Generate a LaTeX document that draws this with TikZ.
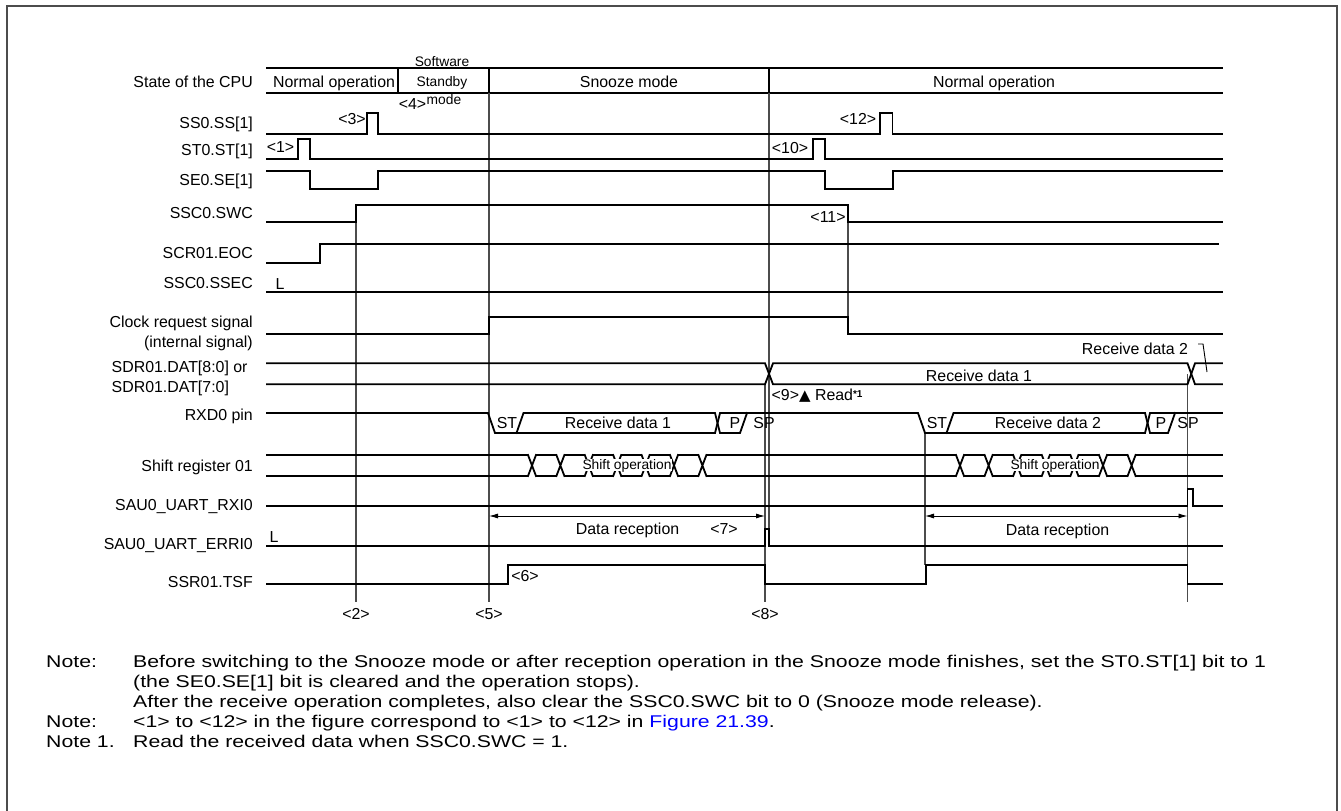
\documentclass[tikz,border=0pt]{standalone}
\usepackage{fontspec}
\setmainfont{Liberation Sans}
\newfontfamily\symfont{DejaVu Sans}
\newfontfamily\notefont[FakeStretch=1.25]{Liberation Sans}
\usetikzlibrary{arrows.meta}
\begin{document}
\begin{tikzpicture}[x=1pt,y=-1pt,
  wave/.style={line width=1.8pt, line join=miter, line cap=rect},
  bold/.style={line width=2.2pt, line cap=rect},
  guide/.style={line width=1.1pt, black!70},
  thin/.style={line width=0.9pt},
  lab/.style={font=\fontsize{15.9}{19}\selectfont, inner sep=0pt, text height=11.4pt, text depth=0pt},
  sml/.style={font=\fontsize{13.8}{16}\selectfont, inner sep=0pt, text height=9.9pt, text depth=0pt},
  rlab/.style={lab, anchor=east},
  dimarrow/.style={thin, {Latex[length=9pt,width=5pt]}-{Latex[length=9pt,width=5pt]}},
  note/.style={font=\notefont\fontsize{17}{20}\selectfont, inner sep=0pt, anchor=base west}]
\useasboundingbox (0,0) rectangle (1341,811);
% frame
\draw[line width=2pt, black!70] (7,811) -- (7,6) -- (1337,6) -- (1337,811);

% ---------- signal labels ----------
\node[rlab] (lcpu) at (253,82) {State of the CPU};
\node[rlab] (lss) at (253,123) {SS0.SS[1]};
\node[rlab] (lst) at (253,150) {ST0.ST[1]};
\node[rlab] (lse) at (253,180) {SE0.SE[1]};
\node[rlab] (lswc) at (253,213) {SSC0.SWC};
\node[rlab] (leoc) at (253,253) {SCR01.EOC};
\node[rlab] (lssec) at (253,283) {SSC0.SSEC};
\node[rlab] (lclk1) at (253,321.5) {Clock request signal};
\node[rlab] (lclk2) at (253,341.5) {(internal signal)};
\node[lab, anchor=west] (lsdr1) at (111.5,366.5) {SDR01.DAT[8:0] or};
\node[lab, anchor=west] (lsdr2) at (111.5,386.5) {SDR01.DAT[7:0]};
\node[rlab] (lrxd) at (253,414.5) {RXD0 pin};
\node[rlab] (lshift) at (253,465.5) {Shift register 01};
\node[rlab] (lrxi) at (253,505) {SAU0\_UART\_RXI0};
\node[rlab] (lerr) at (253,544) {SAU0\_UART\_ERRI0};
\node[rlab] (ltsf) at (253,582) {SSR01.TSF};

% ---------- CPU state row ----------
\draw[bold] (267,68) -- (1222,68);
\draw[bold] (267,93) -- (1222,93);
\draw[bold] (398,68) -- (398,93);
\draw[bold] (489,68) -- (489,93);
\draw[bold] (769,68) -- (769,93);
\node[lab] (cpu1) at (334,82) {Normal operation};
\node[sml] (sw1) at (442,61.5) {Software};
\node[sml] (sw2) at (442,81.5) {Standby};
\node[sml] (sw3) at (444,100) {mode};
\node[lab] (m4) at (412.5,104) {<4>};
\node[lab] (cpu3) at (629,82) {Snooze mode};
\node[lab] (cpu4) at (994,82) {Normal operation};

% ---------- guide lines ----------
\draw[guide] (489,93) -- (489,602);
\draw[guide] (769,93) -- (769,529);
\draw[guide] (356,222) -- (356,602);
\draw[guide] (848,222) -- (848,317);
\draw[guide] (765,384) -- (765,602);
\draw[guide] (1187.5,374) -- (1187.5,602);
\draw[guide] (925,433) -- (925,565);

% ---------- SS0.SS[1] ----------
\draw[wave] (267,134) -- (367,134) -- (367,113) -- (378,113) -- (378,134) -- (880,134) -- (880,113) -- (892.5,113) -- (892.5,134) -- (1222,134);
\node[lab] (m3) at (352,119) {<3>};
\node[lab] (m12) at (858,119) {<12>};
% ---------- ST0.ST[1] ----------
\draw[wave, line width=2.3pt] (267,159.3) -- (297.7,159.3) -- (297.7,139.3) -- (310,139.3) -- (310,159.3) -- (812.7,159.3) -- (812.7,139.3) -- (825,139.3) -- (825,159.3) -- (1222,159.3);
\node[lab] (m1) at (280.5,146.5) {<1>};
\node[lab] (m10) at (790,147.5) {<10>};
% ---------- SE0.SE[1] ----------
\draw[wave] (267,171) -- (310,171) -- (310,189) -- (378,189) -- (378,171) -- (825,171) -- (825,189) -- (893,189) -- (893,171) -- (1222,171);
% ---------- SSC0.SWC ----------
\draw[wave] (267,222) -- (356,222) -- (356,205) -- (848,205) -- (848,222) -- (1222,222);
\node[lab] (m11) at (828,216.5) {<11>};
% ---------- SCR01.EOC ----------
\draw[wave] (267,263.3) -- (320,263.3) -- (320,244) -- (1218,244);
% ---------- SSC0.SSEC ----------
\draw[wave] (267,292.3) -- (1222,292.3);
\node[lab] (lL1) at (280,284) {L};
% ---------- Clock request ----------
\draw[wave] (267,334) -- (489,334) -- (489,317) -- (848,317) -- (848,334) -- (1222,334);
% ---------- SDR01.DAT ----------
\draw[wave] (267,363.3) -- (765,363.3) -- (773,384.3) -- (1187.5,384.3) -- (1195,363.3) -- (1222,363.3);
\draw[wave] (267,384.3) -- (765,384.3) -- (773,363.3) -- (1187.5,363.3) -- (1195,384.3) -- (1222,384.3);
\node[lab] (rd1) at (979,375.5) {Receive data 1};
\node[lab] (rd2) at (1135,349) {Receive data 2};
\coordinate (rd2a) at (1198,344);
\coordinate (rd2b) at (1203,344);
\coordinate (rd2c) at (1207,372);
\draw[thin] (rd2a) -- (rd2b) -- (rd2c);
\node[lab, anchor=west] (m9) at (771.5,395) {<9>{\symfont\fontsize{15}{16}\selectfont ▲} Read{\fontsize{10}{12}\selectfont\bfseries\raisebox{3pt}{*1}}};
% ---------- RXD0 pin ----------
\draw[wave] (267,413) -- (488,413) -- (495,433) -- (715,433) -- (720,413) -- (918,413) -- (925,433) -- (1145,433) -- (1150,413) -- (1222,413);
\draw[wave] (516.5,433) -- (523.5,413) -- (715,413) -- (720,433) -- (740,433) -- (747,413);
\draw[wave] (946.5,433) -- (953.5,413) -- (1145,413) -- (1150,433) -- (1168,433) -- (1175,413);
\node[lab] (st1) at (507,423) {ST};
\node[lab] (rx1) at (618,423) {Receive data 1};
\node[lab] (p1) at (735,423) {P};
\node[lab] (sp1) at (764,423) {SP};
\node[lab] (st2) at (937,423) {ST};
\node[lab] (rx2) at (1048,423) {Receive data 2};
\node[lab] (p2) at (1161,423) {P};
\node[lab] (sp2) at (1188,423) {SP};
% ---------- Shift register 01 ----------
\draw[wave] (267,455) -- (1222,455);
\draw[wave] (267,476) -- (1222,476);
\foreach \c in {532,560.4,588.8,617.2,645.6,674,702.4,960,988.6,1017.2,1045.8,1074.4,1103,1131.6}{
  \fill[white] (\c-4,451) rectangle (\c+4,480);
  \draw[wave] (\c-4,455) -- (\c+4,476) (\c-4,476) -- (\c+4,455);
}
\node[sml, fill=white, inner xsep=0.5pt, inner ysep=1pt] (sh1) at (627,465) {Shift operation};
\node[sml, fill=white, inner xsep=0.5pt, inner ysep=1pt] (sh2) at (1055,465) {Shift operation};
% ---------- RXI0 ----------
\draw[wave] (267,505.7) -- (1187.5,505.7) -- (1187.5,489) -- (1193.3,489) -- (1193.3,505.7) -- (1222,505.7);
% ---------- Data reception ----------
\coordinate (dr1a) at (489,516);
\coordinate (dr1b) at (765,516);
\coordinate (dr2a) at (925,516);
\coordinate (dr2b) at (1187.5,516);
\draw[dimarrow] (dr1a) -- (dr1b);
\draw[dimarrow] (dr2a) -- (dr2b);
\node[lab] (dr1) at (627.5,529) {Data reception};
\node[lab] (m7) at (724,529) {<7>};
\node[lab] (dr2) at (1057.5,530) {Data reception};
% ---------- ERRI0 ----------
\draw[wave] (267,546) -- (765,546) -- (765,529) -- (769,529) -- (769,546) -- (1222,546);
\node[lab] (lL2) at (274,537) {L};
% ---------- TSF ----------
\draw[wave] (267,584.3) -- (508.3,584.3) -- (508.3,565) -- (765,565) -- (765,584.3) -- (925.7,584.3) -- (925.7,565) -- (1187.5,565) -- (1187.5,584.3) -- (1222,584.3);
\node[lab] (m6) at (525,576) {<6>};
% ---------- bottom markers ----------
\node[lab] (m2) at (356,614) {<2>};
\node[lab] (m5) at (489,614) {<5>};
\node[lab] (m8) at (765,614) {<8>};

% ---------- notes ----------
\node[note] (n1) at (46,667) {Note:};
\node[note] (n1t) at (133,667) {Before switching to the Snooze mode or after reception operation in the Snooze mode finishes, set the ST0.ST[1] bit to 1};
\node[note] (n2t) at (133,687) {(the SE0.SE[1] bit is cleared and the operation stops).};
\node[note] (n3t) at (133,707) {After the receive operation completes, also clear the SSC0.SWC bit to 0 (Snooze mode release).};
\node[note] (n4) at (46,727) {Note:};
\node[note] (n4t) at (133,727) {<1> to <12> in the figure correspond to <1> to <12> in \textcolor{blue}{Figure 21.39}.};
\node[note] (n5) at (46,747) {Note 1.};
\node[note] (n5t) at (133,747) {Read the received data when SSC0.SWC = 1.};
\end{tikzpicture}
\end{document}
